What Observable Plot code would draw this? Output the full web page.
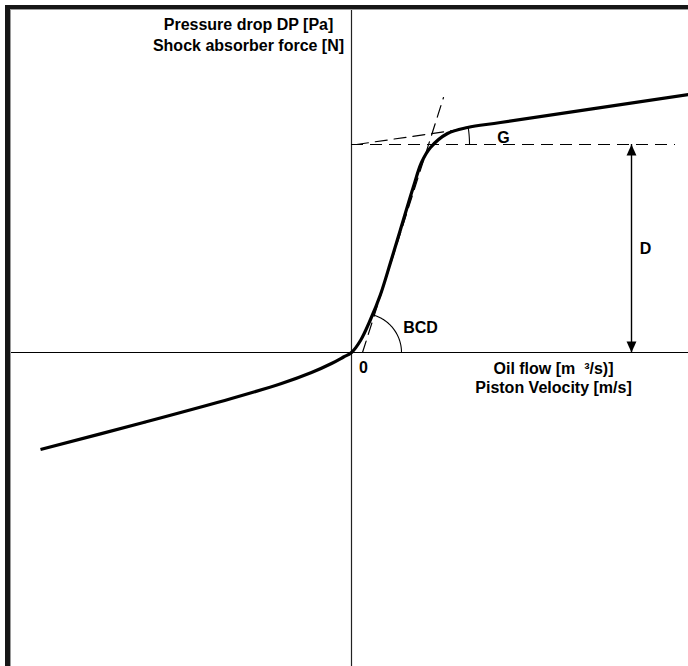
<!DOCTYPE html>
<html><head><meta charset="utf-8">
<script src="https://cdn.jsdelivr.net/npm/d3@7"></script>
<script src="https://cdn.jsdelivr.net/npm/@observablehq/plot@0.6"></script>
<style>
html,body{margin:0;padding:0;background:#fff;}
#wrap{position:relative;width:688px;height:666px;overflow:hidden;}
#chart{position:absolute;left:0;top:0;}
#mask{position:absolute;left:0;top:0;right:0;bottom:0;border-top:5px solid #fff;border-left:5px solid #fff;pointer-events:none;}
#border{position:absolute;left:5px;top:5px;right:0;bottom:0;border-top:4px solid #161616;border-left:5px solid #161616;pointer-events:none;}
#border2{position:absolute;left:10px;top:9px;right:0;bottom:0;border-top:1px solid #9a9a9a;border-left:1px solid #9a9a9a;pointer-events:none;}
</style></head>
<body>
<div id="wrap"><div id="chart"></div><div id="mask"></div><div id="border"></div><div id="border2"></div></div>
<script>
// Characteristic curve: piston velocity (x) vs shock absorber force (y), arbitrary units
const velocity = [-3.11, -2.08, -1.20, -0.70, -0.40, -0.20, -0.08, 0.00, 0.09, 0.19, 0.29, 0.39, 0.49, 0.62, 0.70, 0.79, 0.96, 1.16, 1.49, 3.37];
const force    = [-0.97, -0.70, -0.46, -0.31, -0.20, -0.11, -0.045, 0.00, 0.12, 0.33, 0.58, 0.90, 1.23, 1.66, 1.90, 2.05, 2.19, 2.25, 2.30, 2.58];

// Reference constructions
const levelD = 2.08;                 // force level of the knee (dashed horizontal)
const levelSpan = [0, 3.24];         // extent of the dashed horizontal
const tangentUpperX = [0.05, 1.15];  // dashed tangent to the upper branch
const tangentUpperY = [2.08, 2.24];
const tangentSteepX = [0.11, 0.92];  // dashed tangent to the steep branch
const tangentSteepY = [0.00, 2.55];
const arrowD = {x: 2.80, y1: 0, y2: 2.08};
const arcG   = {cx: 0.05, cy: 2.08, r: 1.13, a0: 0, a1: 8.7};
const arcBCD = {cx: 0.11, cy: 0.00, r: 0.39, a0: 0, a1: 72};

// Text labels
const labelTexts = ["Pressure drop DP [Pa]", "Shock absorber force [N]", "Oil flow [m  \u00b3/s)]", "Piston Velocity [m/s]", "G", "BCD", "0", "D"];
const labelX     = [-1.03, -1.03, 2.02, 2.02, 1.52, 0.69, 0.12, 2.94];
const labelY     = [3.28, 3.07, -0.16, -0.35, 2.15, 0.25, -0.15, 1.04];

const curve = velocity.map((v, i) => ({x: v, y: force[i]}));
const labels = labelTexts.map((t, i) => ({t, x: labelX[i], y: labelY[i]}));
const arcPts = a => d3.range(0, 41).map(i => {
  const ang = (a.a0 + (a.a1 - a.a0) * i / 40) * Math.PI / 180;
  return {x: a.cx + a.r * Math.cos(ang), y: a.cy + a.r * Math.sin(ang)};
});
const pair = (xs, ys) => xs.map((x, i) => ({x, y: ys[i]}));

const tipUp = {draw(ctx, size) { const s = Math.sqrt(size); ctx.moveTo(0, 0); ctx.lineTo(-0.45 * s, s); ctx.lineTo(0.45 * s, s); ctx.closePath(); }};
const tipDown = {draw(ctx, size) { const s = Math.sqrt(size); ctx.moveTo(0, 0); ctx.lineTo(-0.45 * s, -s); ctx.lineTo(0.45 * s, -s); ctx.closePath(); }};

const dash = "12,7";
const font = "'Liberation Sans', Arial, Helvetica, sans-serif";

const chart = Plot.plot({
  width: 688, height: 666,
  marginTop: 0, marginRight: 0, marginBottom: 0, marginLeft: 0,
  x: {domain: [-3.51, 3.37], axis: null},
  y: {domain: [-3.14, 3.52], axis: null},
  style: {background: "#fff"},
  marks: [
    Plot.ruleX([0], {stroke: "#222", strokeWidth: 1.2}),
    Plot.ruleY([0], {stroke: "#000", strokeWidth: 1.2}),
    Plot.ruleY([{y: levelD, x1: levelSpan[0], x2: levelSpan[1]}], {y: "y", x1: "x1", x2: "x2", stroke: "#000", strokeWidth: 1.2, strokeDasharray: dash}),
    Plot.line(pair(tangentUpperX, tangentUpperY), {x: "x", y: "y", stroke: "#000", strokeWidth: 1.2, strokeDasharray: dash}),
    Plot.line(pair(tangentSteepX, tangentSteepY), {x: "x", y: "y", stroke: "#000", strokeWidth: 1.2, strokeDasharray: dash}),
    Plot.line(arcPts(arcG), {x: "x", y: "y", stroke: "#000", strokeWidth: 1.1, curve: "linear"}),
    Plot.line(arcPts(arcBCD), {x: "x", y: "y", stroke: "#000", strokeWidth: 1.1, curve: "linear"}),
    Plot.ruleX([arrowD], {x: "x", y1: "y1", y2: "y2", stroke: "#000", strokeWidth: 1.4}),
    Plot.dot([{x: arrowD.x, y: arrowD.y2}], {x: "x", y: "y", r: 6.2, symbol: tipUp, fill: "#000", stroke: "none"}),
    Plot.dot([{x: arrowD.x, y: arrowD.y1}], {x: "x", y: "y", r: 6.2, symbol: tipDown, fill: "#000", stroke: "none"}),
    Plot.line(curve, {x: "x", y: "y", stroke: "#000", strokeWidth: 3.2, curve: "catmull-rom", strokeLinecap: "butt"}),
    Plot.text(labels, {x: "x", y: "y", text: "t", fontFamily: font, fontWeight: "bold", fontSize: 16, fill: "#000", textAnchor: "middle"})
  ]
});
document.getElementById("chart").appendChild(chart);
</script>
</body></html>
